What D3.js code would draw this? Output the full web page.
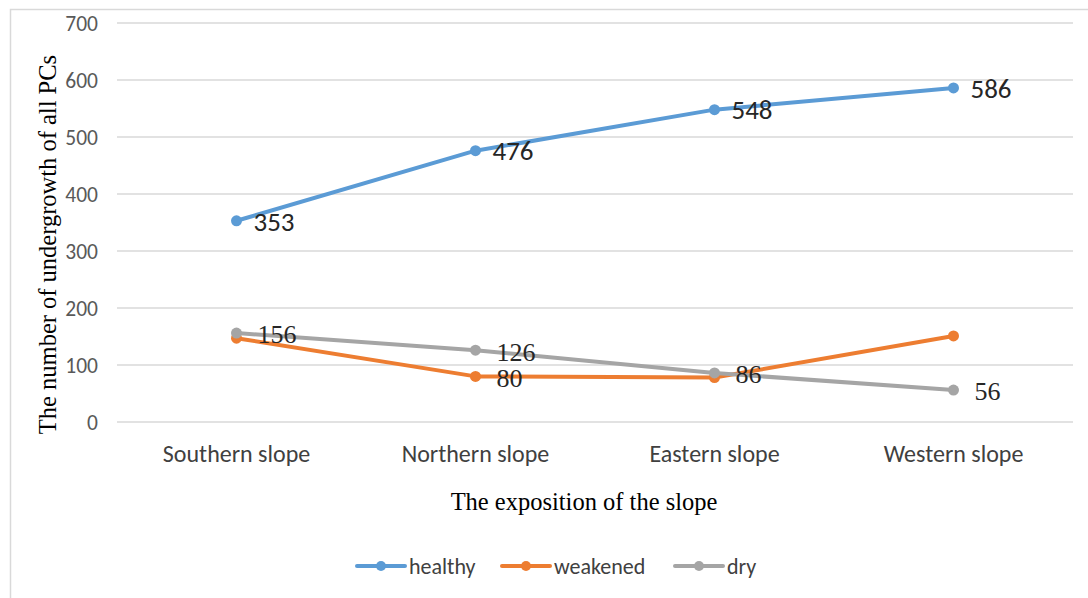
<!DOCTYPE html>
<html><head><meta charset="utf-8">
<script src="https://cdn.jsdelivr.net/npm/d3@7"></script>
<style>body{margin:0;background:#fff}svg{display:block}</style>
</head><body>
<svg id="c" width="1088" height="598"></svg>
<script>
const categories = ["Southern slope","Northern slope","Eastern slope","Western slope"];
const healthy = [353, 476, 548, 586];
const weakened = [147, 80, 78, 151];
const dry = [156, 126, 86, 56];
const yTicks = [0,100,200,300,400,500,600,700];
const seriesNames = ["healthy","weakened","dry"];
const colors = ["#5B9BD5","#ED7D31","#A5A5A5"];
// which points carry a label, and label font
const labelShow = [[true,true,true,true],[false,true,false,false],[true,true,true,true]];
const labelFont = ["sans","serif","serif"];

const svg = d3.select("#c");
const sans = "Carlito, Calibri, Lato, 'Open Sans', sans-serif";
const serif = "'Liberation Serif', 'Times New Roman', serif";

// frame
svg.append("rect").attr("x",10.5).attr("y",9.5).attr("width",1100).attr("height",600)
  .attr("fill","none").attr("stroke","#d9d9d9").attr("stroke-width",1.5);

const L=117, R=1073, T=23, B=422;
const x = d3.scaleBand().domain(categories).range([L,R]);
const y = d3.scaleLinear().domain([0,700]).range([B,T]);

// grid
svg.append("g").selectAll("line").data(yTicks).join("line")
  .attr("x1",L).attr("x2",R).attr("y1",d=>y(d)).attr("y2",d=>y(d))
  .attr("stroke","#d9d9d9").attr("stroke-width",1.3);

// y axis labels
const ya = svg.append("g").attr("transform",`translate(${L-19},0)`)
  .call(d3.axisLeft(y).tickValues(yTicks).tickSize(0).tickPadding(0));
ya.select(".domain").remove();
ya.selectAll("text").attr("font-family",sans).attr("font-size",21.5).attr("fill","#595959").attr("dy","0.36em");

// x axis labels
const xa = svg.append("g").attr("transform",`translate(0,${B})`)
  .call(d3.axisBottom(x).tickSize(0).tickPadding(0));
xa.select(".domain").remove();
xa.selectAll("text").attr("font-family",sans).attr("font-size",24).attr("fill","#404040").attr("y",40).attr("dy",0);

// axis titles
svg.append("text").attr("transform",`translate(56,${(T+B)/2+22}) rotate(-90)`)
  .attr("text-anchor","middle").attr("font-family",serif).attr("font-size",24.5).attr("fill","#000")
  .text("The number of undergrowth of all PCs");
svg.append("text").attr("x",584).attr("y",510).attr("text-anchor","middle")
  .attr("font-family",serif).attr("font-size",24.5).attr("fill","#000").text("The exposition of the slope");

const allData = [healthy, weakened, dry];
const line = d3.line().x((d,i)=>x(categories[i])+x.bandwidth()/2).y(d=>y(d));

allData.forEach((vals,s)=>{
  const g = svg.append("g");
  g.append("path").datum(vals).attr("d",line).attr("fill","none")
    .attr("stroke",colors[s]).attr("stroke-width",4).attr("stroke-linejoin","round").attr("stroke-linecap","round");
  g.selectAll("circle").data(vals).join("circle")
    .attr("cx",(d,i)=>x(categories[i])+x.bandwidth()/2).attr("cy",d=>y(d)).attr("r",5.5)
    .attr("fill",colors[s]);
});

// labels
allData.forEach((vals,s)=>{
  const isSans = labelFont[s]==="sans";
  svg.append("g").selectAll("text").data(vals.map((v,i)=>({v,i})).filter(d=>labelShow[s][d.i])).join("text")
    .attr("x",d=>x(categories[d.i])+x.bandwidth()/2+(isSans?17:21))
    .attr("y",d=>y(d.v)+(isSans?0:1))
    .attr("dy","0.36em")
    .attr("font-family",isSans?sans:serif)
    .attr("font-size",isSans?27:26)
    .attr("fill","#262626")
    .text(d=>d.v);
});

// legend
const legX = [357,502,675];
const lg = svg.append("g");
seriesNames.forEach((n,s)=>{
  const gx = legX[s], gy=566;
  lg.append("line").attr("x1",gx).attr("x2",gx+48).attr("y1",gy).attr("y2",gy)
    .attr("stroke",colors[s]).attr("stroke-width",4).attr("stroke-linecap","round");
  lg.append("circle").attr("cx",gx+24).attr("cy",gy).attr("r",5).attr("fill",colors[s]);
  lg.append("text").attr("x",gx+52).attr("y",gy).attr("dy","0.36em")
    .attr("font-family",sans).attr("font-size",22).attr("fill","#404040").text(n);
});
</script>
</body></html>
